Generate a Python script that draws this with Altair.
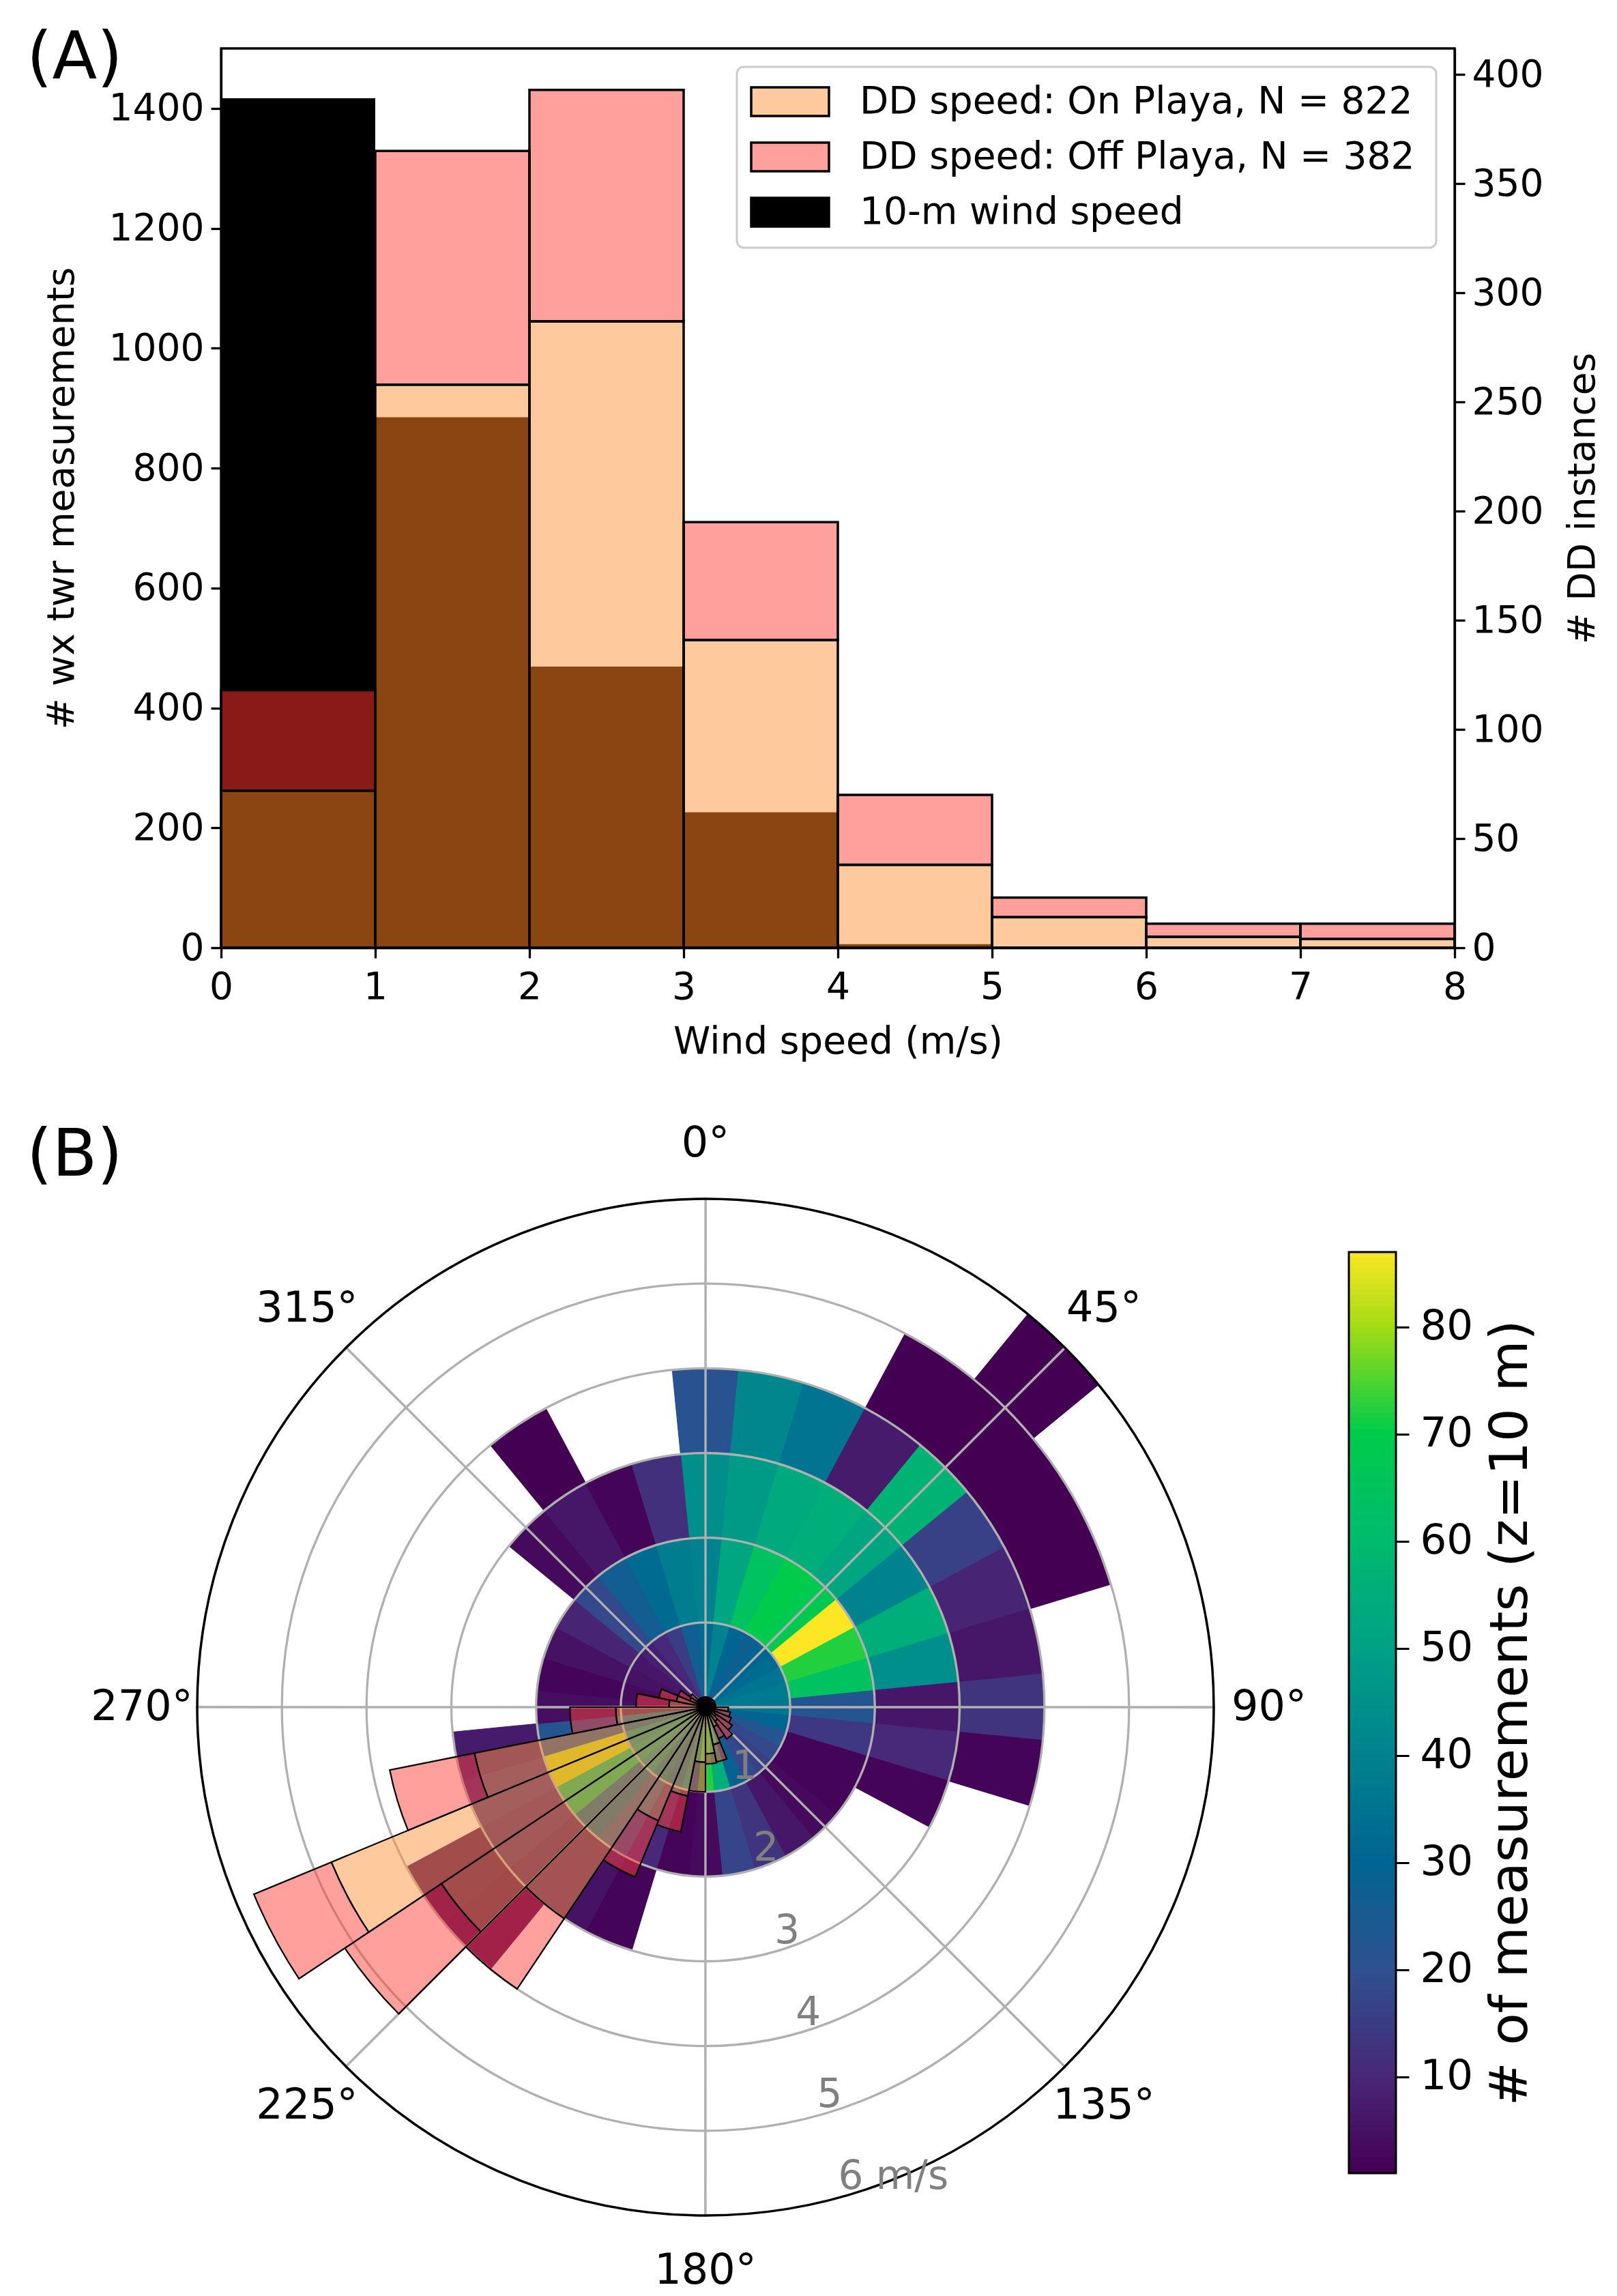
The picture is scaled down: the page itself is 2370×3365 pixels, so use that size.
import math
import altair as alt
import pandas as pd

FONT = "DejaVu Sans"

# ---------------- Panel A values ----------------
speed_bin_start = [0, 1, 2, 3, 4, 5, 6, 7]
speed_bin_end = [1, 2, 3, 4, 5, 6, 7, 8]
wind_speed_counts = [1417, 885, 469, 226, 6, 1, 0, 0]          # left axis
dd_on_playa_counts = [72, 258, 287, 141, 38, 14, 5, 4]         # right axis
dd_off_playa_counts = [46, 107, 106, 54, 32, 9, 6, 7]          # right axis (stacked)
left_axis_ticks = [0, 200, 400, 600, 800, 1000, 1200, 1400]
right_axis_ticks = [0, 50, 100, 150, 200, 250, 300, 350, 400]
speed_axis_ticks = [0, 1, 2, 3, 4, 5, 6, 7, 8]
legend_labels = ["DD speed: On Playa, N = 822", "DD speed: Off Playa, N = 382", "10-m wind speed"]
LEFT_MAX = 1500
RIGHT_MAX = 412

# ---------------- Panel B values ----------------
DIR_BIN = 11.25   # 32 direction sectors, centred on k*11.25 deg
# counts per direction sector (k = 0..31) for each speed ring; 0 = no bar
rose_0_1 = [32, 40, 30, 27, 30, 32, 35, 37, 36, 30, 22, 18, 16, 18, 28, 55,
            72, 40, 30, 35, 45, 50, 45, 30, 4, 3, 5, 6, 8, 10, 15, 26]
rose_1_2 = [40, 52, 64, 70, 68, 87, 72, 64, 22, 14, 2, 2, 3, 6, 13, 17,
            3, 2, 10, 20, 30, 62, 82, 22, 4, 2, 5, 9, 18, 26, 32, 38]
rose_2_3 = [44, 48, 53, 55, 52, 40, 55, 44, 6, 10, 2, 0, 0, 0, 0, 0,
            0, 0, 2, 5, 5, 8, 10, 7, 0, 0, 0, 0, 3, 6, 2, 12]
rose_3_4 = [21, 41, 35, 7, 57, 16, 9, 6, 13, 2, 0, 0, 0, 0, 0, 0,
            0, 0, 0, 0, 1, 2, 0, 0, 0, 0, 0, 0, 0, 1, 0, 0]
rose_4_5 = [0, 0, 0, 1, 1, 1, 1, 0, 0, 0, 0, 0, 0, 0, 0, 0,
            0, 0, 0, 0, 0, 0, 0, 0, 0, 0, 0, 0, 0, 0, 0, 0]
rose_5_6 = [0, 0, 0, 0, 1, 0, 0, 0, 0, 0, 0, 0, 0, 0, 0, 0,
            0, 0, 0, 0, 0, 0, 0, 0, 0, 0, 0, 0, 0, 0, 0, 0]
rose_rings = [rose_0_1, rose_1_2, rose_2_3, rose_3_4, rose_4_5, rose_5_6]

# dust-devil direction wedges (edge aligned, j*11.25 .. (j+1)*11.25), radial units
dd_dir_on = [0.07, 0.07, 0.07, 0.07, 0.07, 0.07, 0.07, 0.07,
             0.12, 0.10, 0.12, 0.15, 0.20, 0.25, 0.45, 0.55,
             0.65, 1.07, 1.45, 3.00, 3.75, 4.78, 2.78, 1.06,
             0.43, 0.35, 0.20, 0.12, 0.07, 0.07, 0.07, 0.07]
dd_dir_off = [0.05, 0.05, 0.05, 0.05, 0.05, 0.05, 0.05, 0.05,
              0.15, 0.20, 0.21, 0.23, 0.25, 0.15, 0.21, 0.12,
              0.35, 0.43, 0.72, 1.00, 1.37, 0.99, 1.02, 0.54,
              0.39, 0.21, 0.15, 0.10, 0.05, 0.05, 0.05, 0.05]
compass_ticks = [0, 45, 90, 135, 180, 225, 270, 315]
speed_rings = [1, 2, 3, 4, 5, 6]
speed_ring_labels = ["1", "2", "3", "4", "5", "6 m/s"]
colorbar_ticks = [10, 20, 30, 40, 50, 60, 70, 80]
COUNT_MIN, COUNT_MAX = 1, 87

# ---------------- styles ----------------
PEACH = "#FFC99E"
PINK = "#FFA09D"
BROWN = "#8B4513"
DARKRED = "#8A1A18"
DD_PEACH = "#FF933D"   # drawn at 50 % opacity in the rose
DD_PINK = "#FF413B"
GRID = "#b0b0b0"
# colour ramp as it appears in the figure's colour bar (a vivid viridis)
CMAP_STOPS = [1, 10, 20, 30, 40, 50, 60, 70, 80, 87]
CMAP_COLORS = ["#440154", "#482878", "#2e5190", "#006592", "#00838e",
               "#00a185", "#00bb6e", "#00cc4a", "#a6dc14", "#fde725"]

A_W, A_H = 1808, 1318
B_W, B_H = 1722, 1350
CX, CY = 710, 667
R_PX = 745

axis_common = dict(labelFont=FONT, titleFont=FONT, labelFontSize=55, titleFontSize=55,
                   labelColor="black", titleColor="black", titleFontWeight="normal",
                   domainColor="black", domainWidth=3.3, tickColor="black", tickWidth=3.3,
                   tickSize=15, grid=False, labelFlush=False,
                   labelOverlap=False, format="d")

# ================= Panel A =================
x_sc = alt.Scale(domain=[0, 8], nice=False, zero=False)
yl_sc = alt.Scale(domain=[0, LEFT_MAX], nice=False, zero=True)
yr_sc = alt.Scale(domain=[0, RIGHT_MAX], nice=False, zero=True)
x_axis = alt.Axis(values=speed_axis_ticks, title="Wind speed (m/s)", titlePadding=26,
                  labelPadding=16, **axis_common)
yl_axis = alt.Axis(orient="left", values=left_axis_ticks, title="# wx twr measurements",
                   titlePadding=40, labelPadding=10, **axis_common)
yr_axis = alt.Axis(orient="right", values=right_axis_ticks, title="# DD instances",
                   titleAngle=270, titleBaseline="top", titlePadding=32,
                   labelPadding=10, **axis_common)

wind_df = pd.DataFrame({"lo": speed_bin_start, "hi": speed_bin_end,
                        "n": wind_speed_counts, "z": 0})
left_layer = alt.Chart(wind_df).mark_rect(color="black").encode(
    x=alt.X("lo:Q", scale=x_sc, axis=x_axis), x2="hi:Q",
    y=alt.Y("n:Q", scale=yl_sc, axis=yl_axis), y2="z:Q",
)

dd_rows, ov_rows = [], []
ratio = RIGHT_MAX / LEFT_MAX
for lo, hi, w, a, b in zip(speed_bin_start, speed_bin_end, wind_speed_counts,
                           dd_on_playa_counts, dd_off_playa_counts):
    t = a + b
    dd_rows.append(dict(lo=lo, hi=hi, y0=0, y1=a, fill=PEACH))
    dd_rows.append(dict(lo=lo, hi=hi, y0=a, y1=t, fill=PINK))
    wr = w * ratio
    if min(wr, a) > 0:
        ov_rows.append(dict(lo=lo, hi=hi, y0=0, y1=min(wr, a), fill=BROWN))
    if wr > a:
        ov_rows.append(dict(lo=lo, hi=hi, y0=a, y1=min(wr, t), fill=DARKRED))
dd_df = pd.DataFrame(dd_rows)
ov_df = pd.DataFrame(ov_rows)

dd_fill = alt.Chart(dd_df).mark_rect().encode(
    x=alt.X("lo:Q", scale=x_sc, axis=x_axis), x2="hi:Q",
    y=alt.Y("y0:Q", scale=yr_sc, axis=yr_axis), y2="y1:Q",
    color=alt.Color("fill:N", scale=None),
)
overlap = alt.Chart(ov_df).mark_rect().encode(
    x=alt.X("lo:Q", scale=x_sc, axis=x_axis), x2="hi:Q",
    y=alt.Y("y0:Q", scale=yr_sc, axis=yr_axis), y2="y1:Q",
    color=alt.Color("fill:N", scale=None),
)
dd_outline = alt.Chart(dd_df).mark_rect(fillOpacity=0, stroke="black", strokeWidth=3.5).encode(
    x=alt.X("lo:Q", scale=x_sc, axis=x_axis), x2="hi:Q",
    y=alt.Y("y0:Q", scale=yr_sc, axis=yr_axis), y2="y1:Q",
)

one = pd.DataFrame({"t": ["(A)"]})
legend_frame = alt.Chart(one).mark_rect(fill="white", fillOpacity=0.85, stroke="#cccccc",
                                        strokeWidth=3, cornerRadius=10).encode(
    x=alt.value(756), x2=alt.value(1781), y=alt.value(27), y2=alt.value(292))
leg_df = pd.DataFrame({"label": legend_labels, "fill": [PEACH, PINK, "black"], "i": [0, 1, 2]})
legend_patch = alt.Chart(leg_df).mark_rect(stroke="black", strokeWidth=3.5).transform_calculate(
    p0="57 + 81*datum.i", p1="99 + 81*datum.i").encode(
    x=alt.value(777), x2=alt.value(891),
    y=alt.Y("p0:Q", scale=None), y2="p1:Q",
    color=alt.Color("fill:N", scale=None))
legend_text = alt.Chart(leg_df).mark_text(align="left", baseline="middle", font=FONT,
                                          fontSize=55, color="black").transform_calculate(
    ym="78 + 81*datum.i").encode(
    x=alt.value(936), y=alt.Y("ym:Q", scale=None), text="label:N")
frame_A = alt.Chart(one).mark_rect(fillOpacity=0, stroke="black", strokeWidth=3.3).encode(
    x=alt.value(0), x2=alt.value(A_W), y=alt.value(0), y2=alt.value(A_H))
label_A = alt.Chart(one).mark_text(align="left", baseline="alphabetic", font=FONT,
                                   fontSize=96, color="black").encode(
    x=alt.value(-285), y=alt.value(44), text="t:N")

right_group = alt.layer(dd_fill, overlap, dd_outline, frame_A, legend_frame,
                        legend_patch, legend_text, label_A)
panelA = alt.layer(left_layer, right_group).resolve_scale(y="independent").properties(
    width=A_W, height=A_H)

# ================= Panel B =================
theta_sc = alt.Scale(domain=[0, 360], range=[0, 2 * math.pi], zero=False, nice=False)
r_sc = alt.Scale(type="linear", domain=[0, 6], range=[0, R_PX], zero=True, nice=False)
col_sc = alt.Scale(domain=CMAP_STOPS, range=CMAP_COLORS, interpolate="rgb")
cb_sc = alt.Scale(domain=[COUNT_MIN, COUNT_MAX], nice=False, zero=False)
cb_axis = alt.Axis(orient="right", values=colorbar_ticks,
                   title="# of measurements (z=10 m)", titleAngle=270, titleBaseline="top",
                   labelFont=FONT, titleFont=FONT, labelFontSize=61, titleFontSize=77,
                   labelColor="black", titleColor="black", titleFontWeight="normal",
                   domain=False, tickColor="black", tickWidth=3, tickSize=19,
                   labelPadding=16, titlePadding=18, grid=False, format="d",
                   labelFlush=False, labelOverlap=False)

rose_rows = []
for ring_i, counts in enumerate(rose_rings):
    for k, c in enumerate(counts):
        if c > 0:
            rose_rows.append(dict(t0=k * DIR_BIN - DIR_BIN / 2, t1=k * DIR_BIN + DIR_BIN / 2,
                                  r0=ring_i, r1=ring_i + 1, c=c))
rose_df = pd.DataFrame(rose_rows)

center = dict(x=alt.value(CX), y=alt.value(CY))

wind_arcs = alt.Chart(rose_df).mark_arc(strokeWidth=1.2).encode(
    theta=alt.Theta("t0:Q", scale=theta_sc, stack=False), theta2="t1:Q",
    radius=alt.Radius("r1:Q", scale=r_sc), radius2="r0:Q",
    color=alt.Color("c:Q", scale=col_sc, legend=None),
    stroke=alt.Stroke("c:Q", scale=col_sc, legend=None),
    **center)

ring_df = pd.DataFrame({"r": [1, 2, 3, 4, 5], "t0": 0, "t1": 360})
grid_rings = alt.Chart(ring_df).mark_arc(fillOpacity=0, stroke=GRID, strokeWidth=3.3).encode(
    theta=alt.Theta("t0:Q", scale=theta_sc, stack=False), theta2="t1:Q",
    radius=alt.Radius("r:Q", scale=r_sc), **center)

spoke_df = pd.DataFrame({"a": compass_ticks})
grid_spokes = alt.Chart(spoke_df).mark_arc(fillOpacity=0, stroke=GRID, strokeWidth=3.3).transform_calculate(
    a2="datum.a + 0.02", r="6").encode(
    theta=alt.Theta("a:Q", scale=theta_sc, stack=False), theta2="a2:Q",
    radius=alt.Radius("r:Q", scale=r_sc), **center)

dd_rows2 = []
for j, (on, off) in enumerate(zip(dd_dir_on, dd_dir_off)):
    dd_rows2.append(dict(t0=j * DIR_BIN, t1=(j + 1) * DIR_BIN, r0=0, r1=on, fill=DD_PEACH))
    dd_rows2.append(dict(t0=j * DIR_BIN, t1=(j + 1) * DIR_BIN, r0=on, r1=on + off, fill=DD_PINK))
dd_rose_df = pd.DataFrame(dd_rows2)
dd_arcs = alt.Chart(dd_rose_df).mark_arc(fillOpacity=0.5, stroke="black", strokeWidth=2.2).encode(
    theta=alt.Theta("t0:Q", scale=theta_sc, stack=False), theta2="t1:Q",
    radius=alt.Radius("r1:Q", scale=r_sc), radius2="r0:Q",
    color=alt.Color("fill:N", scale=None), **center)

outer_df = pd.DataFrame({"r": [6], "t0": 0, "t1": 360})
outer_circle = alt.Chart(outer_df).mark_arc(fillOpacity=0, stroke="black", strokeWidth=3.5).encode(
    theta=alt.Theta("t0:Q", scale=theta_sc, stack=False), theta2="t1:Q",
    radius=alt.Radius("r:Q", scale=r_sc), **center)

ang_df = pd.DataFrame({"a": compass_ticks, "lab": [f"{a}°" for a in compass_ticks]})
angle_labels = alt.Chart(ang_df).mark_text(align="center", baseline="middle", font=FONT,
                                           fontSize=62, color="black").encode(
    theta=alt.Theta("a:Q", scale=theta_sc, stack=False), radius=alt.value(826),
    text="lab:N", **center)

rl_df = pd.DataFrame({"r": speed_rings, "lab": speed_ring_labels})
ring_labels = alt.Chart(rl_df).mark_text(align="left", baseline="middle", font=FONT,
                                         fontSize=58, color="#808080", dx=8, dy=-32).encode(
    theta=alt.value(math.radians(165.5)), radius=alt.Radius("r:Q", scale=r_sc),
    text="lab:N", **center)

cb_strips = alt.Chart(alt.sequence(COUNT_MIN, COUNT_MAX, 0.5, as_="v")).mark_rect().transform_calculate(
    v2=f"min(datum.v + 0.6, {COUNT_MAX})").encode(
    x=alt.value(1653), x2=alt.value(B_W),
    y=alt.Y("v:Q", scale=cb_sc, axis=cb_axis), y2="v2:Q",
    color=alt.Color("v:Q", scale=col_sc, legend=None))
cb_df = pd.DataFrame({"lo": [COUNT_MIN], "hi": [COUNT_MAX]})
cb_frame = alt.Chart(cb_df).mark_rect(fillOpacity=0, stroke="black", strokeWidth=3).encode(
    x=alt.value(1653), x2=alt.value(B_W),
    y=alt.Y("lo:Q", scale=cb_sc, axis=cb_axis), y2="hi:Q")

oneB = pd.DataFrame({"t": ["(B)"]})
label_B = alt.Chart(oneB).mark_text(align="left", baseline="alphabetic", font=FONT,
                                    fontSize=96, color="black").encode(
    x=alt.value(-285), y=alt.value(-112), text="t:N")

panelB = alt.layer(wind_arcs, grid_rings, grid_spokes, dd_arcs, outer_circle,
                   angle_labels, ring_labels, cb_strips, cb_frame, label_B).properties(
    width=B_W, height=B_H)

chart = alt.vconcat(panelA, panelB, spacing=446, bounds="flush").properties(
    padding={"left": 31, "top": 30, "right": 8, "bottom": 8},
    background="white",
).configure(font=FONT).configure_view(stroke=None)

chart.save("out.html", embed_options={"renderer": "svg", "actions": False})
